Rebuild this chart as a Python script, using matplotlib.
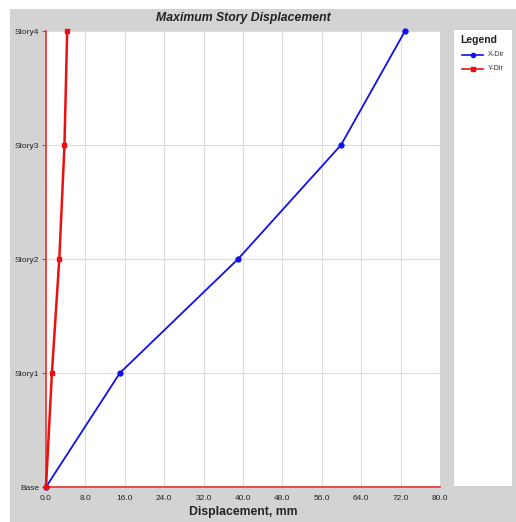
import matplotlib.pyplot as plt
from matplotlib.patches import Rectangle
from matplotlib.lines import Line2D

plt.rcParams['font.family'] = ['Liberation Sans', 'DejaVu Sans']

# Story displacements (mm)
stories = ["Base", "Story1", "Story2", "Story3", "Story4"]
x_dir = [0.0, 15.0, 39.0, 59.9, 72.9]
y_dir = [0.0, 1.2, 2.7, 3.75, 4.3]
x_ticks = [0.0, 8.0, 16.0, 24.0, 32.0, 40.0, 48.0, 56.0, 64.0, 72.0, 80.0]

W, H = 516, 522
bg = "#d3d3d3"

fig = plt.figure(figsize=(W / 100, H / 100), dpi=100, facecolor="white")

# grey panel behind everything
fig.patches.append(Rectangle((10 / W, 0), 1 - 10 / W, 1 - 9 / H,
                             transform=fig.transFigure, facecolor=bg,
                             edgecolor="none", zorder=-10))

ax = fig.add_axes([46 / W, 35 / H, 394 / W, 456 / H])
ax.set_zorder(2)
ax.set_facecolor("white")
levels = range(len(stories))

ax.plot(x_dir, levels, color="#1010ee", lw=1.3, marker="o", ms=3.5, zorder=3,
        clip_on=False)
ax.plot(y_dir, levels, color="#ee1010", lw=1.8, marker="s", ms=3.5, zorder=3,
        clip_on=False)

ax.set_xlim(0, 80)
ax.set_ylim(0, 4)
ax.set_xticks(x_ticks)
ax.set_xticklabels([f"{v:.1f}" for v in x_ticks], fontsize=6, color="#222222")
ax.set_yticks(list(levels))
ax.set_yticklabels(stories, fontsize=6, color="#222222")
ax.tick_params(axis="x", length=0, pad=6)
ax.tick_params(axis="y", length=3, width=0.6, color="#444444", pad=2)
ax.grid(True, color="#dcdcdc", lw=0.8)
ax.set_axisbelow(True)

for side in ["top", "right"]:
    ax.spines[side].set_visible(False)
for side in ["left", "bottom"]:
    ax.spines[side].set_color("#ee3030")
    ax.spines[side].set_linewidth(1.2)

fig.text(0.5 * (46 + 440) / W, 1 - 18 / H, "Maximum Story Displacement",
         ha="center", va="center", fontsize=8.8, fontweight="bold",
         fontstyle="italic", color="#222222")
fig.text(0.5 * (46 + 440) / W, 1 - 512 / H, "Displacement, mm",
         ha="center", va="center", fontsize=8.8, fontweight="bold",
         color="#222222")

# legend panel
fig.patches.append(Rectangle((454 / W, 1 - 486 / H), 58 / W, 456 / H,
                             transform=fig.transFigure, facecolor="white",
                             edgecolor="none", zorder=1))
fig.text(460 / W, 1 - 40 / H, "Legend", ha="left", va="center", fontsize=7.5,
         fontweight="bold", color="#222222")
for yy, col, mk, name in [(55, "#1010ee", "o", "X-Dir"), (69, "#ee1010", "s", "Y-Dir")]:
    fig.add_artist(Line2D([462 / W, 483 / W], [1 - yy / H, 1 - yy / H],
                          transform=fig.transFigure, color=col, lw=1.2))
    fig.add_artist(Line2D([472.5 / W], [1 - yy / H], transform=fig.transFigure,
                          color=col, marker=mk, ms=3))
    fig.text(488 / W, 1 - yy / H, name, ha="left", va="center", fontsize=5.2,
             color="#333333")

fig.savefig("out.png", dpi=100, facecolor="white")
